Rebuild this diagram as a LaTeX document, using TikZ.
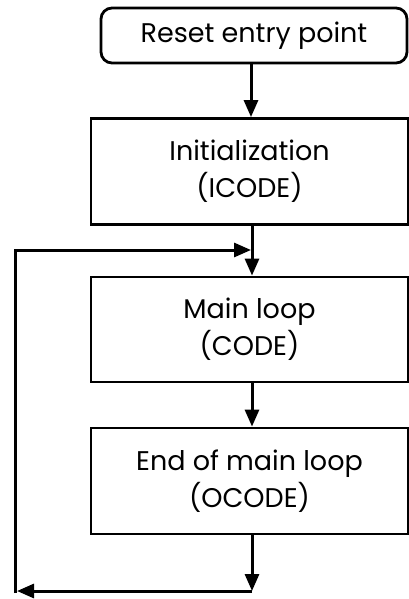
\documentclass[tikz,border=0pt]{standalone}
\usepackage{fontspec}
\setmainfont{Poppins}
\usetikzlibrary{arrows.meta}
\begin{document}
\begin{tikzpicture}[x=1pt,y=-1pt,
  box/.style={draw,line width=2.8pt,align=center,inner sep=0pt,font=\fontsize{27}{37}\selectfont},
  conn/.style={line width=3pt,-{Triangle[length=17pt,width=14pt]}},
  plain/.style={line width=3pt}]
\useasboundingbox (0,0) rectangle (409,599);
\node[box,rounded corners=11pt,minimum width=306pt,minimum height=55pt] (reset) at (254,35.5) {Reset entry point};
\node[box,minimum width=317pt,minimum height=106pt] (init) at (249.5,171.5) {Initialization\\(ICODE)};
\node[box,minimum width=317pt,minimum height=105pt] (main) at (249.5,329.5) {Main loop\\(CODE)};
\node[box,minimum width=317pt,minimum height=106pt] (ocode) at (249.5,481) {End of main loop\\(OCODE)};
\coordinate (b) at (252,591);
\coordinate (bl) at (17,591);
\coordinate (lb) at (15,593);
\coordinate (j) at (251,250);
\draw[conn] (reset.south -| 251,0) -- (init.north -| 251,0);
\draw[conn] (init.south -| 252,0) -- (main.north -| 252,0);
\draw[conn] (main.south -| 252,0) -- (ocode.north -| 252,0);
\draw[conn] (ocode.south -| 252,0) -- (b);
\draw[conn] (b) -- (bl);
\draw[conn] (lb) |- (j);
\end{tikzpicture}
\end{document}
